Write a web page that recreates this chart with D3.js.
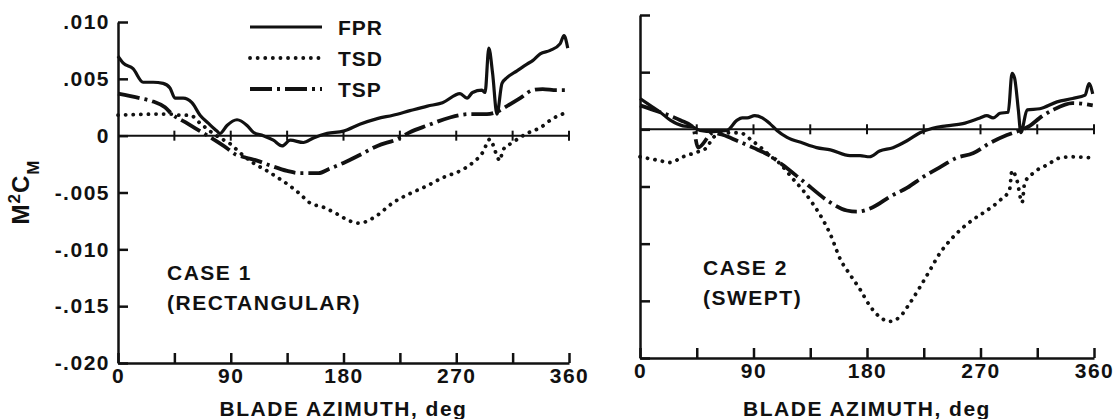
<!DOCTYPE html>
<html lang="en">
<head>
<meta charset="UTF-8">
<title>Blade moment M2CM vs azimuth</title>
<script src="https://d3js.org/d3.v7.min.js"></script>
<style>
  body { margin: 0; background: #fff; }
  text {
    font-family: "Liberation Sans", Arial, sans-serif;
    font-weight: bold;
    fill: #111;
  }
  .axis path, .axis line { stroke: #111; stroke-width: 2.5px; }
  .axis text { font-size: 21px; letter-spacing: 1.5px; }
  .zero { stroke: #111; stroke-width: 2px; }
  .fpr { fill: none; stroke: #111; stroke-width: 3.2px; stroke-linejoin: round; }
  .tsd { fill: none; stroke: #111; stroke-width: 3.8px; stroke-linecap: round; stroke-dasharray: 0.1 7.5; }
  .tsp { fill: none; stroke: #111; stroke-width: 3.8px; stroke-dasharray: 22 5 3 5; }
</style>
</head>
<body>
<script>
// azimuth ticks and y ticks
const xTicks = [0, 45, 90, 135, 180, 225, 270, 315, 360];
const xLabels = [0, 90, 180, 270, 360];
const yTicks = [-0.020, -0.015, -0.010, -0.005, 0, 0.005, 0.010];
const yLabels = ["-.020", "-.015", "-.010", "-.005", "0", ".005", ".010"];
const seriesNames = ["FPR", "TSD", "TSP"];

// case 1 (rectangular) : [deg, M2CM]
const fpr1 = [[0,.0070],[4,.0064],[12,.0059],[20,.0047],[28,.0047],[36,.0046],[41.5,.0042],[45.5,.0033],[52,.0033],
  [59,.0029],[65.5,.0018],[72,.0011],[79,.0004],[81.4,.0002],[87,.0009],[95,.0014],[103,.0009],[108,.0003],
  [116,0],[124,-.0004],[131,-.0009],[137.5,-.0004],[148,-.0006],[156,-.0002],[167,.0002],[180,.0004],[193,.0010],
  [207,.0015],[219.5,.0018],[233,.0022],[247,.0026],[259,.0029],[273,.0037],[278.6,.0033],[283,.0038],[290.5,.0040],
  [293,.0038],[296,.0077],[299,.0055],[302.5,.0019],[306.5,.0046],[310.5,.0051],[318.5,.0057],[326.5,.0063],
  [331,.0066],[337,.0072],[345,.0075],[353,.0081],[356,.0088],[359,.0077]];
const tsd1 = [[0,.0018],[33.5,.0019],[43,.0019],[49.5,.0018],[57.5,.0018],[65.5,.0011],[73.4,.0004],[81.4,-.0002],
  [89.4,-.0007],[97.4,-.0015],[108,-.0024],[119,-.0031],[129,-.0038],[137,-.0044],[145,-.0051],[153,-.0059],
  [164,-.0063],[175,-.0069],[185,-.0075],[193,-.0077],[201,-.0074],[207,-.0070],[219.5,-.0059],[233,-.0051],
  [247,-.0044],[259,-.0037],[273,-.0031],[283,-.0024],[291,-.0015],[297,-.0003],[300,-.0010],[302.5,-.0018],
  [305,-.0022],[307,-.0013],[315,-.0006],[326.5,.0002],[337,.0007],[347,.0015],[357,.0020]];
const tsp1 = [[0,.0037],[17.5,.0033],[28,.0030],[37.5,.0025],[43,.0019],[55,.0011],[65.5,.0004],[76,-.0003],
  [87,-.0011],[93,-.0016],[101,-.0019],[111,-.0022],[121,-.0026],[135,-.0031],[145,-.0033],[153,-.0033],
  [160,-.0033],[169,-.0029],[180,-.0024],[193,-.0017],[207,-.0009],[223,-.0003],[233,.0003],[247,.0009],
  [265,.0016],[281,.0019],[294.5,.0019],[302.5,.0021],[310.5,.0026],[321,.0033],[331,.0040],[339,.0041],
  [350,.0040],[359,.0040]];

// case 2 (swept)
const fpr2 = [[0,.0027],[8,.0021],[16,.0015],[24,.0008],[34,.0003],[42,.0002],[47.6,-.0001],[58,-.0002],[69,-.0001],
  [77,.0008],[81,.0010],[85,.0010],[91,.0012],[97,.0010],[103,.0005],[108.6,-.0001],[116.6,-.0007],[129,-.0012],
  [140,-.0016],[151,-.0018],[166.5,-.0023],[174.5,-.0023],[182,-.0024],[190,-.0019],[200.6,-.0016],[211.7,-.0010],
  [222,-.0003],[232,.0001],[243,.0003],[256,.0005],[269.6,.0010],[275,.0012],[280,.0010],[285.5,.0014],[292,.0015],
  [295,.0049],[297,.0045],[300,.0017],[302,-.0003],[307,.0017],[317,.0018],[330.7,.0024],[343,.0027],[353,.0030],
  [356,.0040],[359,.0031]];
const tsd2 = [[0,-.0024],[14,-.0027],[24,-.0029],[34,-.0024],[45,-.0020],[53,-.0016],[58,-.0007],[69,-.0003],
  [79,-.0003],[89,-.0010],[97,-.0017],[103,-.0023],[111,-.0030],[121,-.0043],[129,-.0053],[137,-.0065],
  [145,-.0079],[151,-.0092],[159,-.0114],[166.5,-.0127],[174.5,-.0140],[182,-.0154],[190,-.0164],[198,-.0168],
  [206,-.0164],[214,-.0152],[222,-.0138],[230,-.0123],[238,-.0108],[246,-.0097],[256,-.0086],[264,-.0079],
  [275,-.0071],[285.5,-.0062],[293,-.0053],[295,-.0036],[299,-.0045],[303,-.0064],[305,-.0047],[312,-.0038],
  [323,-.0031],[333,-.0025],[343,-.0024],[358,-.0025]];
const tsp2 = [[0,.0021],[16,.0015],[32,.0008],[42,.0002],[46,-.0016],[58,-.0003],[66,-.0005],[77,-.0010],
  [89.6,-.0016],[103,-.0023],[113,-.0031],[129,-.0045],[151,-.0064],[164,-.0071],[172,-.0072],[185,-.0068],
  [198,-.0059],[212,-.0051],[224,-.0042],[238,-.0033],[251,-.0025],[264,-.0021],[277.5,-.0012],[291,-.0005],
  [301,-.0001],[309,.0003],[317,.0010],[327.5,.0017],[343,.0023],[359,.0021]];

const width = 1116, height = 419;
const svg = d3.select("body").append("svg")
  .attr("width", width)
  .attr("height", height);

function drawPanel(p) {
  const x = d3.scaleLinear().domain([0, 360]).range([p.x0, p.x1]);
  const y = d3.scaleLinear().domain([-0.020, 0.010]).range([p.y0, p.y1]);

  // left axis, ticks pointing inward
  svg.append("g")
    .attr("class", "axis")
    .attr("transform", `translate(${p.x0},0)`)
    .call(d3.axisLeft(y).tickValues(yTicks).tickSizeInner(-10).tickSizeOuter(0).tickPadding(8)
      .tickFormat((d, i) => p.labels ? yLabels[i] : ""));

  // bottom axis
  svg.append("g")
    .attr("class", "axis")
    .attr("transform", `translate(0,${p.y0})`)
    .call(d3.axisBottom(x).tickValues(xTicks).tickSizeInner(-10).tickSizeOuter(0).tickPadding(5)
      .tickFormat(d => xLabels.includes(d) ? d : ""));

  // zero line with crossing ticks
  svg.append("line").attr("class", "zero")
    .attr("x1", x(0)).attr("x2", x(360)).attr("y1", y(0)).attr("y2", y(0));
  svg.selectAll(null).data(xTicks.slice(1)).enter().append("line")
    .attr("class", "zero")
    .attr("x1", d => x(d)).attr("x2", d => x(d))
    .attr("y1", y(0) - 5).attr("y2", y(0) + 5);

  const line = d3.line().x(d => x(d[0])).y(d => y(d[1])).curve(d3.curveMonotoneX);
  svg.append("path").datum(p.tsd).attr("class", "tsd").attr("d", line);
  svg.append("path").datum(p.tsp).attr("class", "tsp").attr("d", line);
  svg.append("path").datum(p.fpr).attr("class", "fpr").attr("d", line);

  // x axis title
  svg.append("text")
    .attr("x", (p.x0 + p.x1) / 2).attr("y", 416)
    .attr("text-anchor", "middle")
    .style("font-size", "21px").style("letter-spacing", "1.5px")
    .text("BLADE AZIMUTH, deg");

  // case label
  const cl = svg.append("text")
    .attr("x", p.cx).attr("y", p.cy)
    .style("font-size", "21px").style("letter-spacing", "1.5px");
  cl.append("tspan").attr("x", p.cx).text(p.case1);
  cl.append("tspan").attr("x", p.cx).attr("dy", 30).text(p.case2);
}

drawPanel({ x0: 118, x1: 569, y0: 363, y1: 22, labels: true,
  fpr: fpr1, tsd: tsd1, tsp: tsp1, cx: 167, cy: 280, case1: "CASE  1", case2: "(RECTANGULAR)" });
drawPanel({ x0: 640, x1: 1094, y0: 358, y1: 15, labels: false,
  fpr: fpr2, tsd: tsd2, tsp: tsp2, cx: 703, cy: 275, case1: "CASE  2", case2: "(SWEPT)" });

// y axis title M²C_M
const yt = svg.append("text")
  .attr("transform", "translate(29,192) rotate(-90)")
  .attr("text-anchor", "middle")
  .style("font-size", "24px").style("letter-spacing", "1px");
yt.append("tspan").text("M");
yt.append("tspan").attr("baseline-shift", "super").style("font-size", "17px").text("2");
yt.append("tspan").text("C");
yt.append("tspan").attr("baseline-shift", "sub").style("font-size", "17px").text("M");

// legend
const legend = svg.append("g");
const rows = legend.selectAll("g").data(seriesNames).enter().append("g")
  .attr("transform", (d, i) => `translate(0,${27 + i * 31})`);
rows.append("line")
  .attr("class", d => d.toLowerCase())
  .attr("x1", 250).attr("x2", 322).attr("y1", 0).attr("y2", 0);
rows.append("text")
  .attr("x", 338).attr("y", 7.5)
  .style("font-size", "21px").style("letter-spacing", "1px")
  .text(d => d);
</script>
</body>
</html>
